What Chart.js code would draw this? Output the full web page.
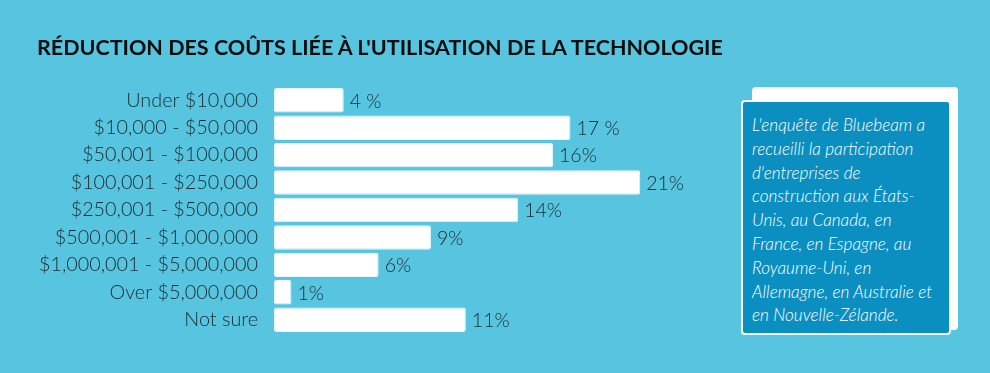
<!DOCTYPE html>
<html><head><meta charset="utf-8">
<script src="https://cdn.jsdelivr.net/npm/chart.js@4/dist/chart.umd.min.js"></script>
<style>
html,body{margin:0;padding:0;}
body{width:990px;height:373px;background:#57c5df;position:relative;overflow:hidden;font-family:Lato,"Open Sans",sans-serif;}
#title{position:absolute;left:37px;top:34px;font-family:Lato;font-weight:700;font-size:21.5px;color:#0d0d0d;white-space:nowrap;}
#wrap{position:absolute;left:0;top:0;width:990px;height:373px;}
#back{position:absolute;left:752px;top:87px;width:206px;height:243px;background:#fff;border-radius:4px;}
#note{position:absolute;left:741px;top:100px;width:206px;height:231px;background:#0b8fc0;border:2px solid #fff;border-radius:4px;box-sizing:content-box;}
#note div{position:absolute;left:9px;top:11px;font-family:Lato;font-style:italic;font-weight:300;font-size:17.2px;line-height:23.8px;color:#fff;white-space:nowrap;}
</style></head>
<body>
<div id="wrap"><canvas id="c" width="990" height="373"></canvas></div>
<div id="title"></div>
<div id="back"></div>
<div id="note"><div id="noteText"></div></div>
<script>
const titleText = "RÉDUCTION DES COÛTS LIÉE À L'UTILISATION DE LA TECHNOLOGIE";
const categories = ["Under $10,000","$10,000 - $50,000","$50,001 - $100,000","$100,001 - $250,000","$250,001 - $500,000","$500,001 - $1,000,000","$1,000,001 - $5,000,000","Over $5,000,000","Not sure"];
const values = [4,17,16,21,14,9,6,1,11];
const valueLabels = ["4 %","17 %","16%","21%","14%","9%","6%","1%","11%"];
const noteLines = ["L'enquête de Bluebeam a","recueilli la participation","d'entreprises de","construction aux États-","Unis, au Canada, en","France, en Espagne, au","Royaume-Uni, en","Allemagne, en Australie et","en Nouvelle-Zélande."];

document.getElementById('title').textContent = titleText;
const nt = document.getElementById('noteText');
noteLines.forEach((l,i)=>{ if(i) nt.appendChild(document.createElement('br')); nt.appendChild(document.createTextNode(l)); });

const valueLabelPlugin = {
  id:'valueLabels',
  afterDatasetsDraw(chart){
    const ctx = chart.ctx;
    const meta = chart.getDatasetMeta(0);
    ctx.save();
    ctx.font = '300 19.5px Lato';
    ctx.fillStyle = '#1e2b30';
    ctx.textAlign = 'left';
    ctx.textBaseline = 'middle';
    meta.data.forEach((bar,i)=>{
      ctx.fillText(valueLabels[i], bar.x + 6, bar.y + 1);
    });
    ctx.restore();
  }
};

function start(){
new Chart(document.getElementById('c'), {
  type:'bar',
  data:{labels:categories, datasets:[{data:values, backgroundColor:'#ffffff', borderColor:'#e8f6fa', borderWidth:1, borderRadius:2, borderSkipped:false, categoryPercentage:1, barPercentage:0.89}]},
  options:{
    indexAxis:'y', responsive:false, animation:false,
    layout:{padding:{left:0,top:86.5,bottom:39.5,right:280}},
    plugins:{legend:{display:false}, tooltip:{enabled:false}},
    scales:{
      x:{display:false, min:0, max:25},
      y:{
        grid:{display:false, drawTicks:false}, border:{display:false},
        ticks:{padding:16, color:'#1e2b30', font:{family:'Lato', size:19.8, weight:300}},
        afterFit(s){ s.width = 274; }
      }
    }
  },
  plugins:[valueLabelPlugin]
});
}
if (document.fonts && document.fonts.load) {
  Promise.all([document.fonts.load('300 19.8px Lato'), document.fonts.load('700 21.5px Lato'), document.fonts.load('italic 300 17.2px Lato')]).then(start, start);
} else start();
</script>
</body></html>
